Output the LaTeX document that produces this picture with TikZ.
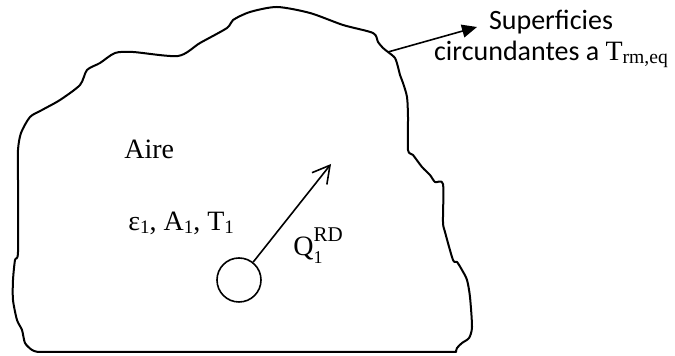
\documentclass[tikz,border=0pt]{standalone}
\usepackage{fontspec}
\setmainfont{Liberation Serif}
\newfontfamily\calibrilike{Carlito}
\usetikzlibrary{arrows.meta}
% raised or lowered index: shift, size, text
\newcommand{\shifted}[3]{\raisebox{#1}{\fontsize{#2}{#2}\selectfont #3}}

\begin{document}
\begin{tikzpicture}[x=0.5pt, y=-0.5pt,
		outline/.style={line width=1pt, line join=round},
		thin arrow/.style={line width=0.8pt},
		lbl/.style={inner sep=0pt, anchor=base west, font=\fontsize{14}{16}\selectfont}]
		\useasboundingbox (0,0) rectangle (675,356);
		% enclosure
		\draw[outline] plot[smooth, tension=0.45] coordinates {(456,352) (457,348) (462,343) (469,338) (472,327) (470,297) (467,280) (462,270) (457,262) (453,260) (445,232) (443,222) (443,184) (435,182) (430,175) (422,167) (413,155) (408,150) (408,117) (407,97) (403,83) (400,75) (398,67) (395,58) (388,52) (383,48) (378,42) (373,33) (343,25) (310,13) (277,7) (250,12) (233,20) (227,28) (200,43) (178,56) (133,52) (115,53) (100,63) (87,70) (80,85) (60,100) (42,110) (30,117) (21,133) (18,150) (18,180) (18,252) (15,260) (13,280) (13,300) (17,320) (22,330) (25,343) (32,350) (38,352)} -- cycle;
		\node[draw, circle, line width=0.8pt, minimum size=22pt, inner sep=0pt] (body) at (239,280) {};
		\coordinate (qtip) at (331,164);
		\coordinate (wall) at (388,52);
		\coordinate (stip) at (477,27);
		\draw[thin arrow, -{Straight Barb[length=8.5pt, width=9.5pt]}] (body) -- (qtip);
		\draw[thin arrow, -{Triangle[length=7.5pt, width=6.5pt]}] (wall) -- (stip);
		\node[lbl] (aire) at (124,159) {Aire};
		\node[lbl] (props) at (128,231) {ε\shifted{-1.5pt}{9.5}{1},\hspace{0.25em}A\shifted{-1.5pt}{9.5}{1},\hspace{0.25em}T\shifted{-1.5pt}{9.5}{1}};
		\node[lbl] (heat) at (293,256) {Q\rlap{\shifted{-4pt}{9}{1}}\shifted{7pt}{10.5}{RD}};
		\node[inner sep=0pt, anchor=north, align=center, font=\calibrilike\fontsize{14}{15.5}\selectfont] (surf) at (551,10) {Superficies\\circundantes a {\rmfamily T\shifted{-1.5pt}{9.8}{rm,eq}}};
	\end{tikzpicture}
\end{document}
